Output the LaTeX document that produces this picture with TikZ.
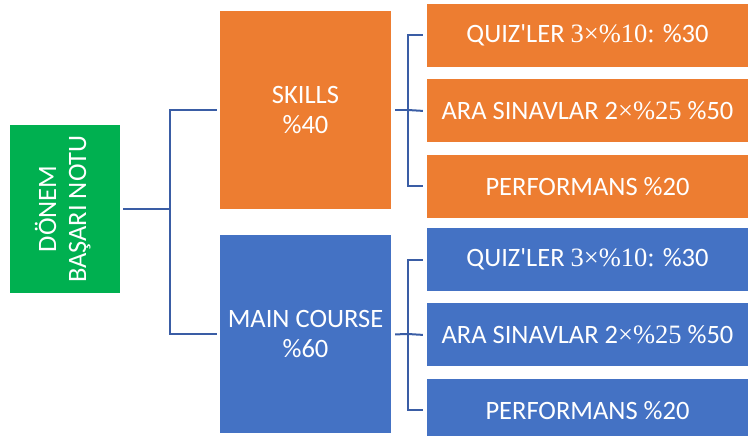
\documentclass[tikz,border=0pt]{standalone}
\usepackage{fontspec}
\setmainfont{Carlito}
\newfontfamily\numserif{Liberation Serif}
\usetikzlibrary{positioning}
\definecolor{sorange}{HTML}{ED7D31}
\definecolor{sblue}{HTML}{4472C4}
\definecolor{sgreen}{HTML}{00B050}
\definecolor{linkblue}{HTML}{3A5DA5}
\tikzset{x=1pt,y=-1pt,node distance=12pt}
\tikzset{box/.style={rectangle,inner sep=0pt,text=white,align=center,
        font=\fontsize{26.5}{30}\selectfont}}
\tikzset{topbox/.style={box,minimum width=171pt,minimum height=198pt}}
\tikzset{subbox/.style={box,minimum width=321pt,minimum height=63pt}}
\tikzset{link/.style={draw=linkblue,line width=2pt}}

\begin{document}
\begin{tikzpicture}
    \useasboundingbox (0,0) rectangle (748,436);
    \node[box,fill=sgreen,minimum width=110pt,minimum height=168pt] (dnm) at (65,209)
        {\rotatebox{90}{\begin{tabular}{@{}c@{}}DÖNEM\\BAŞARI NOTU\end{tabular}}};
    \node[topbox,fill=sorange] (skills) at (305.5,110) {SKILLS\\\%40};
    \node[topbox,fill=sblue] (main) [below=26pt of skills] {MAIN COURSE\\\%60};
    % skills branch
    \node[subbox,fill=sorange] (sq) at (587.5,35.5) {QUIZ\textquotesingle LER {\numserif 3×\%10:} \%30};
    \node[subbox,fill=sorange] (sa) [below=of sq] {ARA SINAVLAR 2{\numserif ×\%25} \%50};
    \node[subbox,fill=sorange] (sp) [below=of sa] {PERFORMANS \%20};
    % main course branch
    \node[subbox,fill=sblue] (mq) at (587.5,259.5) {QUIZ\textquotesingle LER {\numserif 3×\%10:} \%30};
    \node[subbox,fill=sblue] (ma) [below=of mq] {ARA SINAVLAR 2{\numserif ×\%25} \%50};
    \node[subbox,fill=sblue] (mp) [below=of ma] {PERFORMANS \%20};
    \coordinate (hub) at (170,209);
    \coordinate (skhub) at (408,110);
    \coordinate (mchub) at (408,334);
    \draw[link] ([xshift=3pt]dnm.east) -- (hub);
    \draw[link] ([xshift=-3pt]skills.west) -| (hub) |- ([xshift=-3pt]main.west);
    \draw[link] ([xshift=4pt]skills.east) -- (skhub);
    \draw[link] ([xshift=-4pt]sq.west) -| (skhub) |- ([xshift=-4pt]sp.west);
    \draw[link] (skhub) -- ([xshift=-4pt]sa.west);
    \draw[link] ([xshift=4pt]main.east) -- (mchub);
    \draw[link] ([xshift=-4pt]mq.west) -| (mchub) |- ([xshift=-4pt]mp.west);
    \draw[link] (mchub) -- ([xshift=-4pt]ma.west);
\end{tikzpicture}
\end{document}
